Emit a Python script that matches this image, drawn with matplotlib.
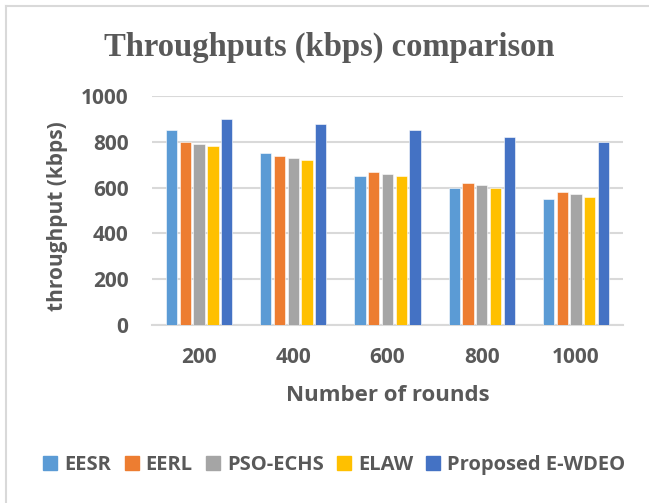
import numpy as np
import matplotlib.pyplot as plt
from matplotlib.lines import Line2D

# data
rounds = ["200", "400", "600", "800", "1000"]
eesr = [850, 750, 650, 600, 550]
eerl = [800, 740, 670, 620, 580]
pso_echs = [790, 730, 660, 610, 570]
elaw = [780, 720, 650, 600, 560]
proposed = [900, 880, 850, 820, 800]

series_names = ["EESR", "EERL", "PSO-ECHS", "ELAW", "Proposed E-WDEO"]
colors = ["#5B9BD5", "#ED7D31", "#A5A5A5", "#FFC000", "#4472C4"]
text_col = "#595959"

fig = plt.figure(figsize=(6.49, 5.03), dpi=100)
ax = fig.add_axes([0.2342, 0.354, 0.9600 - 0.2342, 0.809 - 0.354])

x = np.arange(len(rounds))
slot = 0.146
width = 0.12
all_series = [eesr, eerl, pso_echs, elaw, proposed]
for i, vals in enumerate(all_series):
    ax.bar(x + (i - 2) * slot, vals, width, color=colors[i],
           edgecolor="white", linewidth=0.4, label=series_names[i], zorder=3)

ax.set_xlim(-0.5, len(rounds) - 0.5)
ax.set_ylim(0, 1000)
ax.set_yticks(range(0, 1001, 200))
ax.set_xticks(x)
ax.set_xticklabels(rounds)
ax.grid(axis="y", color="#D9D9D9", linewidth=1.5, zorder=0)
ax.tick_params(length=0, colors=text_col, labelsize=15)
ax.tick_params(axis="y", pad=17)
ax.tick_params(axis="x", pad=16)
for lab in ax.get_xticklabels() + ax.get_yticklabels():
    lab.set_fontfamily("Open Sans")
    lab.set_fontweight("bold")
for s in ["top", "right", "left"]:
    ax.spines[s].set_visible(False)
ax.spines["bottom"].set_color("#D9D9D9")
ax.spines["bottom"].set_linewidth(1.5)

ax.set_xlabel("Number of rounds", fontsize=16, fontweight="bold",
              family="Open Sans", color=text_col, labelpad=12)
fig.text(58 / 649, 1 - 216 / 503, "throughput (kbps)", rotation=90,
         ha="center", va="center", fontsize=15, fontweight="bold",
         family="Open Sans", color=text_col)

fig.text(329 / 649, 1 - 47 / 503, "Throughputs (kbps) comparison",
         ha="center", va="center", fontsize=23.5, fontweight="bold",
         family="Liberation Serif", color=text_col)

# legend
handles = [Line2D([], [], marker="s", linestyle="none", markersize=9.5,
                  color=c) for c in colors]
fig.legend(handles, series_names, loc="center", bbox_to_anchor=(334 / 649, 1 - 465 / 503),
           ncol=5, frameon=False, handlelength=0.8, handletextpad=0.3,
           columnspacing=0.6, prop={"family": "Open Sans", "weight": "bold", "size": 14.5},
           labelcolor=text_col)

# chart border (only top and left visible in the crop)
fig.add_artist(Line2D([6 / 649, 6 / 649], [0, 1 - 6 / 503], color="#D9D9D9", lw=1.5))
fig.add_artist(Line2D([6 / 649, 1], [1 - 6 / 503, 1 - 6 / 503], color="#D9D9D9", lw=1.5))

fig.savefig("out.png", dpi=100)
